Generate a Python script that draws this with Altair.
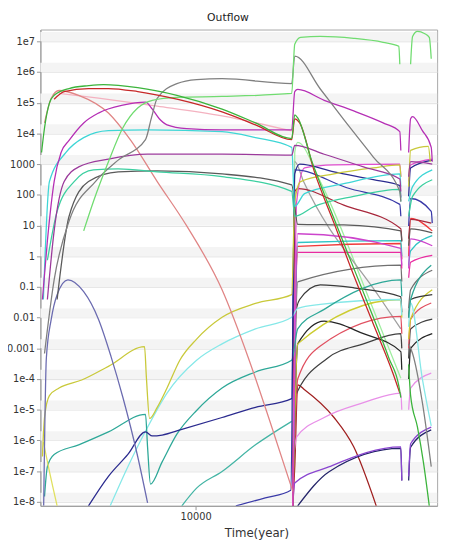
import altair as alt
import pandas as pd

# ---- data (time in years, outflow value) ----
GREEN_AB = [(3000, 2.4e3), (3070, 1.5e4), (3190, 9.7e4), (3310, 1.74e5), (3720, 2.9e5), (4330, 3.6e5), (4870, 3.9e5), (6360, 3.1e5), (8640, 1.74e5), (12300, 6.2e4), (15970, 2.2e4), (21200, 6.8e3), (21710, 4.0e4), (22220, 3.2e4), (24740, 1.35e3), (28840, 29), (34420, 0.41), (40120, 0.0103), (45370, 4.7e-4), (48980, 6.0e-5), (49750, 2.5e-5)]
GREEN_C = [(52890, 3e-4), (53700, 2.9e-5), (56660, 2.7e-6), (59330, 2.0e-7), (62140, 7.4e-9)]
RED_AB = [(3310, 1.3e5), (3580, 2.3e5), (4330, 2.9e5), (5060, 2.9e5), (6360, 2.3e5), (8640, 1.3e5), (12300, 5.0e4), (15970, 1.9e4), (21200, 6.3e3), (21710, 3.0e4), (22560, 2.2e4), (25320, 560), (29510, 12), (34420, 0.24), (40120, 6.2e-3), (46770, 1.55e-4), (49350, 3.5e-5)]
LGREEN_AB = [(4170, 6.7), (4500, 61), (5060, 1.2e3), (5660, 1.5e4), (6360, 6.7e4), (7130, 1.2e5), (8640, 1.5e5), (12300, 1.6e5), (21200, 2.0e5), (21710, 8.0e6), (22730, 1.34e7), (26510, 1.44e7), (34420, 1.25e7), (43320, 9.3e6), (48980, 6.9e6), (49350, 1.8e6)]
LGREEN_C = [(53700, 1.8e6), (54530, 1.44e7), (56660, 2.1e7), (59800, 1.8e7), (62140, 1.34e7), (63100, 2.7e6)]
GRAY_AB = [(3070, 6.8e-4), (3310, 0.17), (3720, 14), (4570, 270), (5460, 1.35e3), (6760, 6.3e3), (7080, 3.2e4), (7410, 1.4e5), (8640, 4.2e5), (10080, 5.7e5), (12300, 6.1e5), (21200, 4.2e5), (21710, 3.3e6), (26510, 2.8e5), (31860, 2.8e4), (40120, 1.7e3), (49350, 128), (49750, 60)]
GRAY_C = [(52890, 1.4e-3), (54530, 6.8e-4), (58880, 1.7e-5), (63100, 1.4e-7)]
PURPLE_AB = [(3020, 0.039), (3140, 3.2), (3310, 270), (3494, 2.4e3), (3720, 5.9e3), (4170, 2.2e4), (4680, 4.6e4), (5660, 8.3e4), (6760, 1.04e5), (7130, 6.2e4), (7530, 3.0e4), (8000, 1.9e4), (9330, 1.43e4), (12300, 1.3e4), (21200, 1.3e4), (21710, 2.3e5), (22220, 2.7e5), (27330, 1.2e5), (34420, 5.4e4), (43320, 2.2e4), (49350, 1.14e4), (49750, 2.8e3)]
PURPLE_C = [(52890, 2.4e3), (53700, 3.0e4), (54530, 3.5e4), (58880, 1.23e4), (63100, 3.5e3), (63600, 1.2e3)]
PURPLE2_AB = [(3140, 0.039), (3310, 6.7), (3580, 270), (4010, 810), (5060, 1.45e3), (6870, 2.1e3), (12300, 2.1e3), (21200, 1.95e3), (21710, 4.1e3), (27330, 2.1e3), (37150, 810), (49350, 330), (49750, 128)]
PURPLE2_C = [(52890, 390), (53700, 1.2e3), (63600, 1.0e3)]
CYAN_AB = [(3043, 0.039), (3190, 270), (3631, 2.4e3), (4170, 7.3e3), (5060, 1.23e4), (6870, 1.3e4), (12300, 1.14e4), (15970, 7.3e3), (21200, 3.5e3), (21710, 42), (23440, 110), (31860, 230), (49350, 480), (49750, 185)]
CYAN_C = [(52890, 61), (54530, 185), (63600, 650)]
AQUA_AB = [(3140, 0.74), (3388, 29), (3870, 270), (4500, 650), (5460, 700), (7410, 560), (12300, 390), (21200, 130), (21710, 20), (25320, 42), (34420, 89), (49350, 150), (49750, 61)]
AQUA_C = [(52890, 20), (54530, 89), (63600, 310)]
DGRAY_AB = [(3388, 0.039), (3720, 20), (4330, 270), (5460, 560), (7410, 600), (12300, 480), (21200, 210), (22220, 11), (31860, 10.5), (49750, 6.7), (50120, 3)]
DGRAY_C = [(52890, 2.2), (53700, 7.8), (63600, 5.8)]
PINK = [(3070, 2.2e4), (3236, 1.4e5), (3440, 2.5e5), (4010, 1.74e5), (5060, 4.6e4), (6026, 5.9e3), (7410, 270), (9330, 9.7), (12300, 0.081), (15130, 4.7e-4), (17920, 3.9e-6), (21380, 2.2e-8)]
PALEPINK = [(3440, 2.0e5), (4680, 1.4e5), (7410, 7.7e4), (12300, 3.7e4), (21200, 1.2e4)]
SLATE = [(3050, 7.5e-9), (3114, 4.7e-4), (3236, 0.0089), (3388, 0.056), (3687, 0.17), (4170, 0.07), (4680, 0.0089), (5164, 5.4e-4), (5666, 2.5e-5), (6360, 3.0e-7), (6870, 9.3e-9)]
YELLOW_AB = [(3020, 3e-7), (3070, 5.6e-6), (3190, 2.9e-5), (3440, 5.1e-5), (4105, 9.3e-5), (5060, 2.6e-4), (6709, 1.13e-3), (6810, 1.07e-4), (6980, 5.2e-6), (7410, 1.2e-5), (8000, 5.1e-5), (8840, 4.1e-4), (10080, 2.0e-3), (12300, 0.0103), (15970, 0.029), (21200, 0.056), (21710, 61), (22730, 270), (29510, 480), (40120, 750), (49350, 940), (49750, 390)]
YELLOW_C = [(52890, 185), (53700, 2.8e3), (61660, 3.8e3), (62600, 1.2e3)]
YELLOW_DROP = [(3043, 8.9e-7), (3190, 9.8e-8), (3388, 7.4e-9)]
NAVY_AB = [(4330, 7.4e-9), (5060, 6.8e-8), (5890, 3.5e-7), (6760, 1.9e-6), (7130, 1.4e-6), (7700, 1.5e-6), (8980, 2.3e-6), (12300, 5.6e-6), (15970, 1.2e-5), (21200, 2.3e-5), (21710, 480), (22560, 1.0e3), (29510, 560), (40120, 310), (49350, 200), (49750, 82)]
NAVY_C = [(52890, 89), (53700, 750), (63600, 1.35e3)]
TEAL_AB = [(3070, 1.5e-8), (3140, 1.4e-7), (3310, 3.5e-7), (4010, 7.2e-7), (5060, 1.9e-6), (6760, 7.1e-6), (6870, 6.2e-7), (7030, 3.8e-8), (7700, 2.0e-7), (8640, 1.6e-6), (10080, 9.5e-6), (12300, 5.1e-5), (15970, 1.7e-4), (21200, 4.1e-4), (22220, 4.3e-3), (27330, 0.0186), (49750, 0.17), (50120, 0.05)]
TEAL_C = [(52890, 0.01), (53700, 0.039), (63100, 0.51)]
LCYAN_AB = [(5130, 7.4e-9), (5890, 1.4e-7), (6870, 2.7e-6), (8000, 3.5e-5), (10080, 4.1e-4), (12300, 1.4e-3), (15970, 4.3e-3), (21200, 0.0103), (22220, 0.02), (26510, 0.027), (49750, 0.039), (50120, 0.012)]
LCYAN_C = [(52890, 0.005), (53700, 0.03), (58880, 1e-4), (63100, 3e-6)]
TEAL2 = [(8980, 7.4e-9), (10080, 2.8e-8), (12300, 9.8e-8), (15970, 7.2e-7), (21200, 4.2e-6)]
NAVY2_AB = [(13700, 7.4e-9), (17240, 1.35e-8), (21050, 2.4e-8), (21710, 650), (32620, 170), (49350, 49), (49750, 20)]
NAVY2_C = [(52890, 9.7), (53700, 76), (63100, 29), (63600, 12)]
MAGFLAT_B = [(21380, 7.4e-9), (22040, 61), (23440, 750), (29510, 940), (49350, 1.0e3), (49750, 390)]
MAGFLAT_C = [(52890, 270), (53700, 940), (63600, 1.45e3)]
DRED_B = [(21380, 7.4e-9), (21710, 128), (22220, 160), (31860, 46), (49750, 7.8), (50120, 3.2)]
DRED_C = [(52890, 3.7), (53700, 16), (63100, 12)]
MAG2_B = [(21380, 7.4e-9), (22220, 5.4), (49750, 1.8), (50120, 0.5)]
MAG2_C = [(52890, 0.4), (53700, 3.7), (63600, 2.2)]
CYAN3_B = [(21380, 7.4e-9), (22220, 2.8), (49750, 3.2), (50120, 1.0)]
CYAN3_C = [(52890, 0.5), (53700, 1.5), (63600, 4.7)]
RED3_B = [(21380, 7.4e-9), (22220, 2.1), (49750, 2.6), (50120, 0.8)]
RED3_C = [(52890, 1.0), (53700, 17), (63600, 6.7)]
MAG3_B = [(21380, 7.4e-9), (22220, 1.33), (49750, 1.33), (50120, 0.4)]
MAG3_C = [(52890, 0.2), (53700, 0.64), (63600, 1.07)]
GRAY3_B = [(21380, 7.4e-9), (22220, 0.146), (49750, 0.51), (50120, 0.15)]
GRAY3_C = [(52890, 0.02), (53700, 0.081), (63600, 0.35)]
BLACK1_B = [(21380, 7.4e-9), (21710, 0.0089), (22560, 0.039), (26510, 0.117), (34420, 0.094), (49750, 0.048), (50120, 0.015)]
BLACK1_C = [(52890, 0.01), (53700, 0.039), (63600, 0.056)]
YELLOW2_B = [(21380, 7.4e-9), (22220, 1.4e-3), (49750, 0.039), (50120, 0.01)]
YELLOW2_C = [(52890, 2e-3), (53700, 0.0089), (63600, 0.081)]
BLACK2_B = [(21380, 7.4e-9), (22220, 1.4e-3), (27330, 7.7e-3), (37150, 3.0e-3), (49750, 7.8e-4), (50120, 2e-4)]
BLACK2_C = [(52890, 1e-4), (53700, 1e-3), (63600, 3e-3)]
RED2_B = [(21380, 7.4e-9), (22220, 1e-4), (26510, 1.2e-3), (49750, 0.011), (50120, 3e-3)]
RED2_C = [(52890, 1e-3), (53700, 0.0089), (63100, 0.03)]
BLACK3_B = [(21380, 7.4e-9), (21710, 2.5e-5), (27970, 4.7e-4), (37150, 1.4e-3), (49750, 3.0e-3), (50120, 1e-3)]
BLACK3_C = [(52890, 4.7e-4), (53700, 4.3e-3), (63600, 8.9e-3)]
LPINK_B = [(21380, 1.4e-7), (22040, 1.3e-6), (27330, 5.6e-6), (37150, 1.7e-5), (49750, 3.5e-5), (50120, 1e-5)]
LPINK_C = [(52890, 1e-5), (53700, 5.1e-5), (63100, 1.55e-4)]
VIOLET_B = [(21380, 7.4e-9), (21710, 4.1e-8), (28470, 1.4e-7), (49750, 6.2e-7), (50120, 5e-8)]
VIOLET_C = [(52890, 6.8e-8), (53700, 7.8e-7), (63100, 2.7e-6)]
NAVY3_B = [(22220, 7.4e-9), (28470, 9.8e-8), (49750, 5.5e-7), (50120, 5e-8)]
NAVY3_C = [(52890, 5e-8), (53700, 6e-7), (63100, 2.2e-6)]
DRED2_B = [(21380, 7.4e-9), (21710, 1.4e-7), (22220, 6.5e-5), (23440, 4.5e-5), (29510, 5.6e-6), (34420, 6.2e-7), (41050, 7.4e-9)]
LGREEN2_B = [(21380, 7.4e-9), (21710, 2.4e3), (22220, 5.1e3), (26510, 270), (38900, 0.039), (46770, 4.7e-4), (49750, 1.07e-4)]
GRAY4_B = [(21380, 7.4e-9), (21710, 1.2e3), (23260, 270), (42010, 0.048), (49750, 4.3e-3)]

X_TICKS = [10000]
Y_DECADES = [float(f"1e{k}") for k in range(-8, 8)]

SERIES = [
    ("teal2", "#45b5a5", [TEAL2]),
    ("lgreen2", "#a0eea0", [LGREEN2_B]),
    ("gray4", "#a0a0a0", [GRAY4_B]),
    ("dred2", "#a02020", [DRED2_B]),
    ("navy3", "#25256a", [NAVY3_B, NAVY3_C]),
    ("violet", "#8a46d0", [VIOLET_B, VIOLET_C]),
    ("lpink", "#e890e8", [LPINK_B, LPINK_C]),
    ("black3", "#404040", [BLACK3_B, BLACK3_C]),
    ("red2", "#e05060", [RED2_B, RED2_C]),
    ("black2", "#262626", [BLACK2_B, BLACK2_C]),
    ("yellow2", "#cccc30", [YELLOW2_B, YELLOW2_C]),
    ("black1", "#3a3a3a", [BLACK1_B, BLACK1_C]),
    ("gray3", "#707070", [GRAY3_B, GRAY3_C]),
    ("mag3", "#e82ca0", [MAG3_B, MAG3_C]),
    ("red3", "#f03a3a", [RED3_B, RED3_C]),
    ("cyan3", "#30c4c4", [CYAN3_B, CYAN3_C]),
    ("mag2", "#cc44cc", [MAG2_B, MAG2_C]),
    ("dred", "#a8283c", [DRED_B, DRED_C]),
    ("magflat", "#e050d0", [MAGFLAT_B, MAGFLAT_C]),
    ("navy2", "#3a3aa8", [NAVY2_AB, NAVY2_C]),
    ("lcyan", "#86e8e8", [LCYAN_AB, LCYAN_C]),
    ("teal", "#2ea898", [TEAL_AB, TEAL_C]),
    ("navy", "#2b2b8f", [NAVY_AB, NAVY_C]),
    ("yellowdrop", "#e0e060", [YELLOW_DROP]),
    ("yellow", "#c9c93a", [YELLOW_AB, YELLOW_C]),
    ("slate", "#6b6bb0", [SLATE]),
    ("palepink", "#f4b2c0", [PALEPINK]),
    ("pink", "#e08585", [PINK]),
    ("dgray", "#5a5a5a", [DGRAY_AB, DGRAY_C]),
    ("aqua", "#3ccfa0", [AQUA_AB, AQUA_C]),
    ("cyan", "#3ed6d6", [CYAN_AB, CYAN_C]),
    ("purple2", "#9b3a9b", [PURPLE2_AB, PURPLE2_C]),
    ("purple", "#b52fb5", [PURPLE_AB, PURPLE_C]),
    ("gray", "#808080", [GRAY_AB, GRAY_C]),
    ("lgreen", "#70dc70", [LGREEN_AB, LGREEN_C]),
    ("red", "#c62828", [RED_AB]),
    ("green", "#3cb43c", [GREEN_AB, GREEN_C]),
]

rows = []
for order, (name, color, segs) in enumerate(SERIES):
    for k, seg in enumerate(segs):
        for i, (t, v) in enumerate(seg):
            rows.append({"series": name, "seg": f"{order:02d}_{name}_{k}", "i": i, "t": t, "v": v})
df = pd.DataFrame(rows)

bands = pd.DataFrame({"lo": Y_DECADES, "hi": [d * 10 ** 0.3 for d in Y_DECADES]})

W, H = 404, 485
xscale = alt.Scale(type="log", domain=[2973, 66070], nice=False)
yscale = alt.Scale(type="log", domain=[7.45e-9, 2.42e7], nice=False)

label_expr = ("(round(log(datum.value)/LN10) >= 4 || round(log(datum.value)/LN10) <= -4) ? "
              "'1e' + round(log(datum.value)/LN10) : format(datum.value, '~g')")

yaxis = alt.Axis(values=Y_DECADES, labelExpr=label_expr, title=None, grid=True,
                 gridColor="#e0e0e0", tickSize=4, labelPadding=2)

band_layer = alt.Chart(bands).mark_rect(color="#f4f4f4").encode(
    x=alt.value(0), x2=alt.value(W),
    y=alt.Y("lo:Q", scale=yscale, axis=yaxis),
    y2="hi:Q",
)

lines = alt.Chart(df).mark_line(strokeWidth=1.3, clip=True, interpolate="monotone").encode(
    x=alt.X("t:Q", scale=xscale,
            axis=alt.Axis(values=X_TICKS, format="d", title="Time(year)", grid=False,
                          tickSize=4, labelPadding=2, titleX=220, titleY=27,
                          titleBaseline="middle", titleFontSize=12, titleFontWeight="normal",
                          titleColor="#333")),
    y=alt.Y("v:Q", scale=yscale, axis=yaxis),
    color=alt.Color("series:N", scale=alt.Scale(domain=[s[0] for s in SERIES],
                                                range=[s[1] for s in SERIES]), legend=None),
    detail="seg:N",
    order="i:Q",
)

chart = alt.layer(band_layer, lines).properties(
    width=W, height=H,
    title=alt.TitleParams("Outflow", fontSize=11, fontWeight="normal", font="DejaVu Sans",
                          color="#222", anchor="middle", offset=7, dx=-11),
    autosize=alt.AutoSizeParams(type="none"),
    padding={"left": 33, "top": 17, "right": 7, "bottom": 35},
).configure_axis(
    labelFont="DejaVu Sans", labelFontSize=10, labelColor="#333",
    titleFont="DejaVu Sans", domainColor="#999", tickColor="#999",
).configure_view(stroke="#a8a8a8", strokeWidth=1)

chart.save("out.html", embed_options={"renderer": "svg", "actions": False})
